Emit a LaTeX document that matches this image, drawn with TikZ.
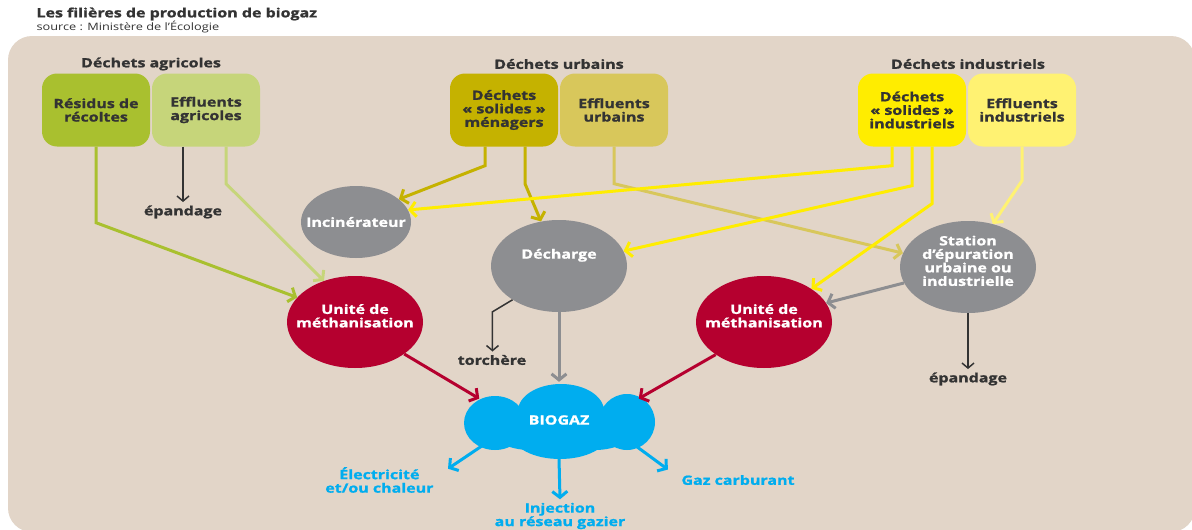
\documentclass[tikz,border=0pt]{standalone}
\usepackage{fontspec}
\setsansfont{Open Sans}[FakeStretch=1.25,BoldFeatures={FakeBold=1.2}]
\usepackage{tikz}
\usetikzlibrary{arrows.meta,shapes.geometric}

\definecolor{fond}{HTML}{E2D5C8}
\definecolor{texte}{HTML}{333333}
\definecolor{vertA}{HTML}{A9C02F}
\definecolor{vertB}{HTML}{C6D57A}
\definecolor{ocreA}{HTML}{C5B200}
\definecolor{ocreB}{HTML}{D8C75B}
\definecolor{jauneA}{HTML}{FFED00}
\definecolor{jauneB}{HTML}{FFF272}
\definecolor{gris}{HTML}{8D8E91}
\definecolor{carmin}{HTML}{B5002F}
\definecolor{bleu}{HTML}{00ADEF}

\begin{document}
\begin{tikzpicture}[x=1pt,y=-1pt,>={Straight Barb[length=6pt,width=15pt]},
  every node/.style={font=\sffamily\bfseries\fontsize{12.8}{13.5}\selectfont,text=texte,align=center},
  boite/.style={rounded corners=15pt,minimum width=108pt,minimum height=73pt,inner sep=1pt},
  rond/.style={ellipse,fill=gris,text=white,inner xsep=-30pt,inner ysep=-10pt,minimum width=136pt,minimum height=92pt},
  fleche/.style={->,line width=3pt},
  trait/.style={->,line width=1.5pt,draw=texte,>={Straight Barb[length=5pt,width=12pt]}},
  sortie/.style={text=bleu}]
  \useasboundingbox (0,0) rectangle (1192,530);
  \fill[white] (0,0) rectangle (1192,530);
  \fill[fond,rounded corners=24pt] (8,36) rectangle (1195,532);

  % titre
  \node[anchor=west,font=\sffamily\bfseries\fontsize{12.8}{15}\selectfont] (titre) at (33,14) {Les filières de production de biogaz};
  \node[anchor=west,font=\sffamily\fontsize{10.2}{11}\selectfont] (source) at (33,27) {source : Ministère de l’Écologie};

  % sources de dechets
  \node (agri) at (151,64) {Déchets agricoles};
  \node (urb) at (559,64) {Déchets urbains};
  \node (ind) at (968,64) {Déchets industriels};
  \node[boite,fill=vertA] (resid) at (96,110) {Résidus de\\récoltes};
  \node[boite,fill=vertB] (effA) at (206,110) {Effluents\\agricoles};
  \node[boite,fill=ocreA] (menag) at (504,110) {Déchets\\«~solides~»\\ménagers};
  \node[boite,fill=ocreB] (effU) at (614,110) {Effluents\\urbains};
  \node[boite,fill=jauneA] (solI) at (912,110) {Déchets\\«~solides~»\\industriels};
  \node[boite,fill=jauneB] (effI) at (1022,110) {Effluents\\industriels};

  % traitements
  \node[rond,minimum width=110pt,minimum height=72pt] (incin) at (356,222) {Incinérateur};
  \node[rond] (dech) at (559,266) {Décharge\\[11pt]};
  \node[rond] (stat) at (968,267) {Station\\d’épuration\\urbaine ou\\industrielle\\[-1pt]};
  \node[rond,fill=carmin] (unitA) at (355,322) {Unité de\\méthanisation\\[-1pt]};
  \node[rond,fill=carmin] (unitB) at (764,322) {Unité de\\méthanisation\\[-1pt]};

  % nuage du biogaz
  \fill[bleu] (495,423) ellipse[x radius=31,y radius=27];
  \fill[bleu] (561,411) ellipse[x radius=43,y radius=27];
  \fill[bleu] (627,422) ellipse[x radius=28,y radius=28];
  \fill[bleu] (560,434) ellipse[x radius=48,y radius=25];
  \fill[bleu] (530,428) ellipse[x radius=40,y radius=22];
  \fill[bleu] (595,428) ellipse[x radius=40,y radius=22];
  \node[ellipse,inner sep=0pt,minimum width=192pt,minimum height=76pt,text=white] (bio) at (559,420) {BIOGAZ};

  % debouches
  \node (epA) at (183,212) {épandage};
  \node (torch) at (492,360) {torchère};
  \node (epB) at (968,379) {épandage};
  \node[sortie,anchor=east] (elec) at (437,480) {Électricité\\et/ou chaleur};
  \node[sortie] (inj) at (560,516) {Injection\\au réseau gazier};
  \node[sortie] (gaz) at (738,480) {Gaz carburant};

  % flux
  \draw[fleche,vertA] (resid.south) -- ++(0,76) -- (unitA.157);
  \draw[trait] ([xshift=-23pt]effA.south) -- (epA);
  \draw[fleche,vertB] ([xshift=20pt]effA.south) -- ++(0,37) -- (unitA.127);
  \draw[fleche,ocreA] ([xshift=-19pt]menag.south) -- ++(0,19) -- (incin.28);
  \draw[fleche,ocreA] ([xshift=21pt]menag.south) -- ++(0,37) -- (dech.112);
  \draw[fleche,ocreB] (effU.south) -- ++(0,37) -- (stat.168);
  \draw[fleche,jauneA] ([xshift=-20pt]solI.south) -- ++(0,19) -- (incin.13);
  \draw[fleche,jauneA] (solI.south) -- ++(0,39) -- (dech.13);
  \draw[fleche,jauneA] ([xshift=20pt]solI.south) -- ++(0,57) -- (unitB.35);
  \draw[fleche,jauneB] (effI.south) -- ++(0,34) -- (stat.60);
  \draw[fleche,gris] (stat.194) -- (unitB.17);
  \draw[trait] (dech.216) -- ++(-20,12) coordinate (coude) -- (coude |- torch.north);
  \draw[trait] (stat.south) -- (epB);
  \draw[fleche,gris] (dech.south) -- (bio.north);
  \draw[fleche,carmin] (unitA.-33) -- (bio.165);
  \draw[fleche,carmin] (unitB.214) -- (bio.15);
  \draw[fleche,bleu] (bio.198) -- ([shift={(11,5)}]elec.north east);
  \draw[fleche,bleu] (bio.south) -- (inj.north);
  \draw[fleche,bleu] (bio.-18) -- ([shift={(-10,-2)}]gaz.north west);
\end{tikzpicture}
\end{document}
